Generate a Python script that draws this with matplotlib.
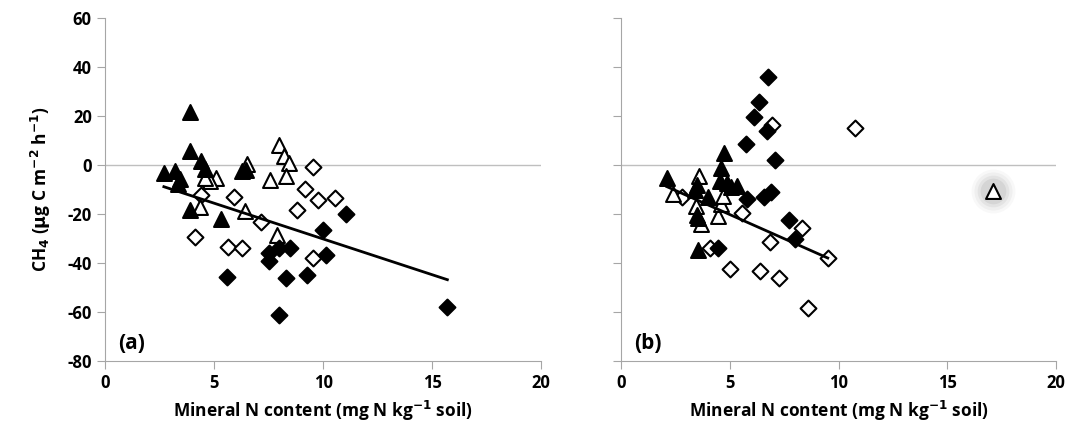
import matplotlib.pyplot as plt
import numpy as np

plt.rcParams['font.family'] = ['Open Sans', 'DejaVu Sans']
plt.rcParams['axes.unicode_minus'] = False

# Painel (a)
a_tri_cheio_x = [3.9, 3.9, 2.7, 3.2, 3.45, 3.35, 4.4, 4.6, 3.9, 5.3, 6.3, 6.45]
a_tri_cheio_y = [21.5, 5.8, -3.3, -2.4, -5.6, -7.8, 1.7, -1.6, -18.3, -22.0, -2.4, -2.1]
a_tri_vazio_x = [8.0, 8.2, 8.45, 8.3, 7.55, 6.5, 5.1, 4.8, 4.6, 4.35, 6.4, 7.9]
a_tri_vazio_y = [8.0, 3.5, 1.0, -4.3, -6.0, 0.4, -5.4, -6.5, -5.1, -17.3, -18.8, -28.5]
a_dia_cheio_x = [11.05, 10.0, 10.15, 7.5, 7.5, 8.0, 8.5, 5.6, 8.3, 9.25, 8.0, 15.7]
a_dia_cheio_y = [-19.9, -26.5, -36.7, -36.0, -39.1, -34.0, -34.0, -45.8, -46.2, -44.8, -61.4, -57.8]
a_dia_vazio_x = [4.4, 4.15, 5.9, 5.65, 6.3, 7.15, 8.8, 9.15, 9.55, 9.75, 10.55, 9.55]
a_dia_vazio_y = [-12.2, -29.2, -12.9, -33.3, -34.0, -23.3, -18.2, -9.9, -0.9, -14.2, -13.5, -37.8]
a_coef = (-2.92, -0.97)   # reta ajustada: inclinacao, intercepto
a_faixa = (2.7, 15.7)     # intervalo de x da reta

# Painel (b)
b_tri_cheio_x = [2.1, 4.75, 4.6, 4.55, 4.85, 5.05, 5.35, 3.5, 3.4, 4.0, 3.5, 3.55, 3.55]
b_tri_cheio_y = [-5.4, 5.0, -1.3, -6.7, -7.4, -8.8, -8.4, -8.1, -10.1, -12.9, -20.3, -21.7, -34.6]
b_tri_vazio_x = [3.6, 2.4, 3.45, 3.68, 4.47, 4.57, 4.7]
b_tri_vazio_y = [-4.3, -11.7, -16.9, -24.0, -21.0, -16.0, -12.5]
b_destaque_x = [17.1]     # triangulo isolado com sombra
b_destaque_y = [-10.5]
b_dia_cheio_x = [6.77, 6.34, 6.13, 6.73, 5.72, 7.07, 5.8, 6.55, 6.88, 7.72, 8.0, 4.47]
b_dia_cheio_y = [35.8, 25.9, 19.5, 13.7, 8.6, 2.0, -13.9, -12.9, -11.2, -22.4, -30.1, -33.7]
b_dia_vazio_x = [6.93, 10.77, 2.8, 5.55, 8.31, 6.85, 9.53, 5.0, 6.39, 7.28, 8.61, 4.1]
b_dia_vazio_y = [16.4, 15.0, -12.9, -19.7, -25.8, -31.5, -38.0, -42.4, -43.2, -46.2, -58.4, -34.0]
b_coef = (-3.94, -0.53)
b_faixa = (2.1, 9.5)

cinza = '#A6A6A6'

fig = plt.figure(figsize=(10.69, 4.30), dpi=100)
ax_a = fig.add_axes([0.0982, 0.1605, 0.408, 0.7975])
ax_b = fig.add_axes([0.581, 0.1605, 0.407, 0.7975])

paineis = [
    (ax_a, '(a)', a_tri_cheio_x, a_tri_cheio_y, a_tri_vazio_x, a_tri_vazio_y,
     a_dia_cheio_x, a_dia_cheio_y, a_dia_vazio_x, a_dia_vazio_y, a_coef, a_faixa),
    (ax_b, '(b)', b_tri_cheio_x, b_tri_cheio_y, b_tri_vazio_x, b_tri_vazio_y,
     b_dia_cheio_x, b_dia_cheio_y, b_dia_vazio_x, b_dia_vazio_y, b_coef, b_faixa),
]

for (ax, rotulo, tcx, tcy, tvx, tvy, dcx, dcy, dvx, dvy, coef, faixa) in paineis:
    ax.axhline(0, color='#BFBFBF', lw=1.0, zorder=1)
    ax.scatter(dvx, dvy, marker='D', s=65, facecolor='white', edgecolor='black', lw=1.5, zorder=3)
    ax.scatter(tvx, tvy, marker='^', s=115, facecolor='white', edgecolor='black', lw=1.5, zorder=3)
    ax.scatter(dcx, dcy, marker='D', s=65, facecolor='black', edgecolor='black', lw=1.5, zorder=4)
    ax.scatter(tcx, tcy, marker='^', s=115, facecolor='black', edgecolor='black', lw=1.5, zorder=4)

    # reta de tendencia
    xs = np.array(faixa)
    ax.plot(xs, coef[0] * xs + coef[1], color='black', lw=2, zorder=5)

    ax.set_xlim(0, 20)
    ax.set_ylim(-80, 60)
    ax.set_xticks([0, 5, 10, 15, 20])
    ax.set_yticks(np.arange(-80, 61, 20))
    for lado in ['top', 'right']:
        ax.spines[lado].set_visible(False)
    for lado in ['left', 'bottom']:
        ax.spines[lado].set_color(cinza)
    ax.tick_params(direction='out', length=6, color=cinza, labelsize=12)
    for t in ax.get_xticklabels() + ax.get_yticklabels():
        t.set_fontweight('bold')
    ax.set_xlabel('Mineral N content (mg N kg$^{\\mathbf{-1}}$ soil)', fontsize=12.5,
                  fontweight='bold', labelpad=5)
    ax.text(0.6, -73, rotulo, fontsize=15, fontweight='bold', va='center')

# sombra em volta do triangulo isolado
for s, al in [(1000, 0.05), (750, 0.07), (520, 0.10), (340, 0.14)]:
    ax_b.scatter(b_destaque_x, b_destaque_y, s=s, color='gray', alpha=al, lw=0, zorder=2)
ax_b.scatter(b_destaque_x, b_destaque_y, marker='^', s=115, facecolor='white',
             edgecolor='black', lw=1.5, zorder=3)

ax_b.tick_params(labelleft=False)
ax_a.set_ylabel('CH$_\\mathbf{4}$ ($\\mathbf{\\mu}$g C m$^{\\mathbf{-2}}$ h$^{\\mathbf{-1}}$)',
                fontsize=12.5, fontweight='bold', labelpad=10)

fig.savefig('out.png', dpi=100)
